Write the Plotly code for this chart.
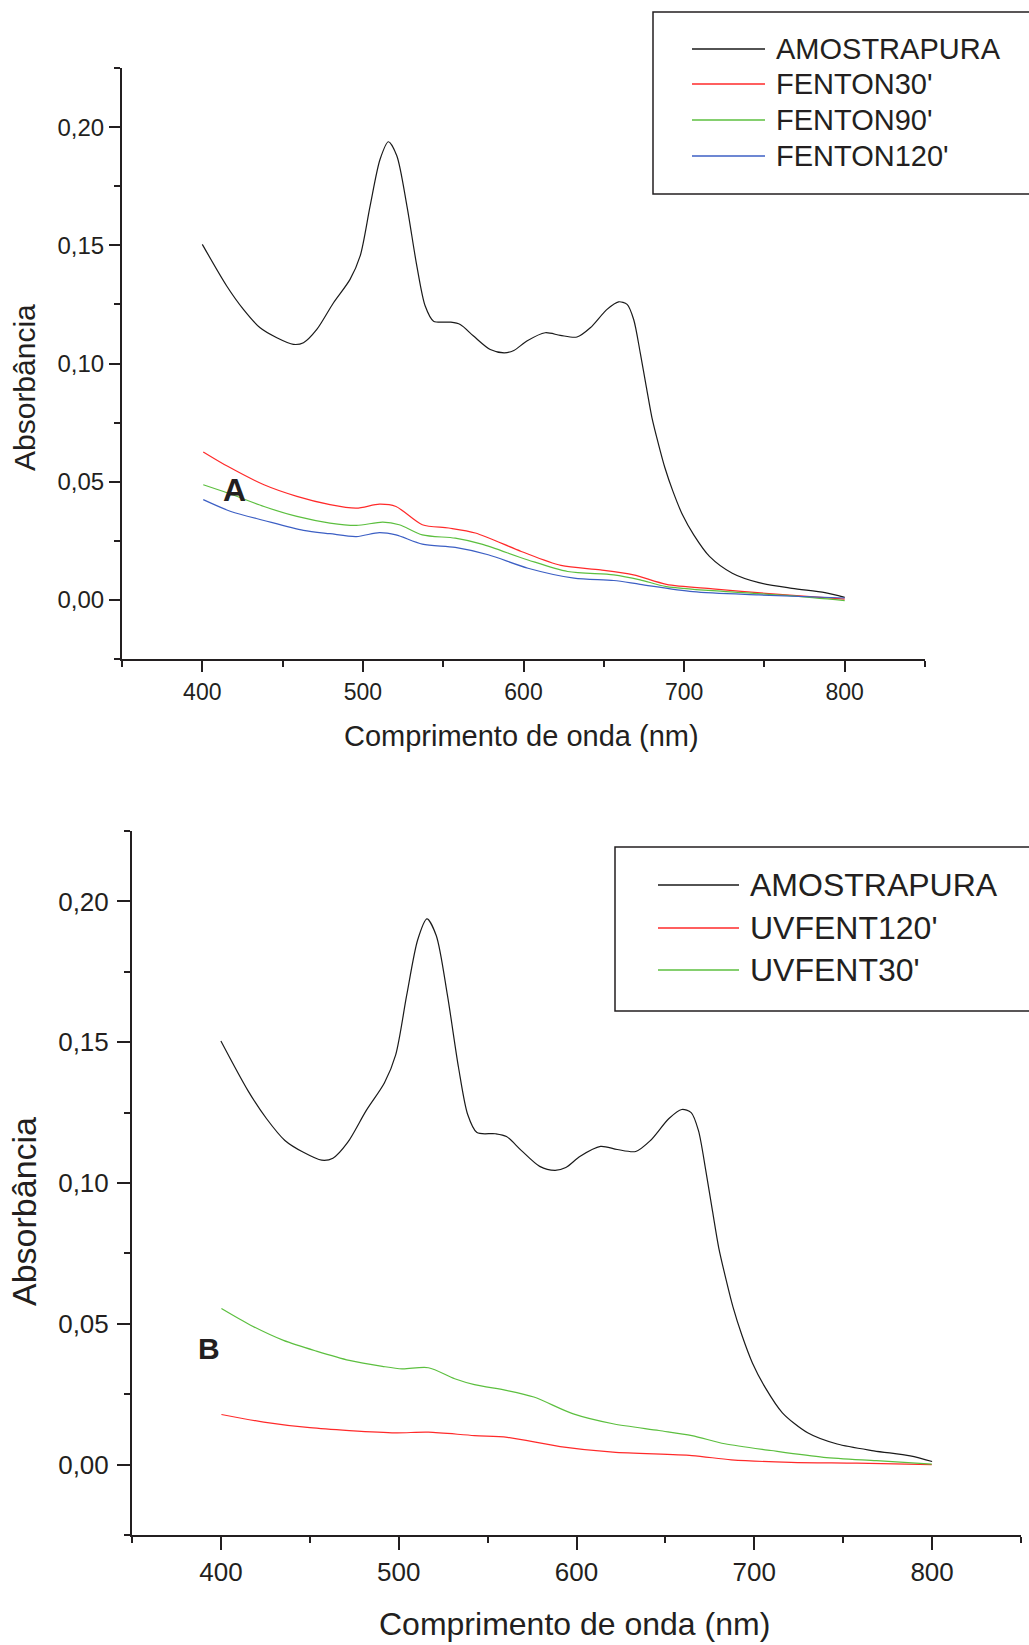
import plotly.graph_objects as go

# ---------------- data ----------------
# AMOSTRAPURA (same spectrum in both panels)
wl_pure = [400.0, 415.2, 425.6, 436.0, 446.4, 456.7, 463.0, 471.3, 481.7, 492.0,
           498.3, 504.5, 510.7, 515.9, 521.1, 527.4, 533.6, 538.8, 544.0, 554.4,
           560.6, 568.9, 579.3, 588.0, 594.0, 602.1, 613.5, 622.9, 633.3, 641.6,
           652.0, 659.2, 664.5, 668.6, 672.7, 676.5, 680.0, 684.0, 688.0, 693.0,
           699.0, 706.0, 715.8, 730.0, 746.6, 767.2, 787.7, 800.0]
abs_pure = [0.1504, 0.1328, 0.1229, 0.1151, 0.1109, 0.1081, 0.1088, 0.1144, 0.1257, 0.1356,
            0.1455, 0.1667, 0.1864, 0.1938, 0.1879, 0.1667, 0.1412, 0.1243, 0.1179, 0.1175,
            0.1165, 0.1116, 0.1059, 0.1045, 0.1055, 0.1095, 0.1130, 0.1119, 0.1112, 0.1151,
            0.1229, 0.1261, 0.1250, 0.1186, 0.1045, 0.0900, 0.0770, 0.0660, 0.0560, 0.0460,
            0.0360, 0.0275, 0.0184, 0.0113, 0.0073, 0.0049, 0.0031, 0.0011]

# Panel A
wl_f30 = [400.6, 415.8, 438.4, 458.9, 479.5, 495.9, 510.3, 520.6, 537.0, 553.4,
          570.0, 598.6, 623.3, 648.0, 668.5, 689.0, 717.8, 750.7, 800.0]
abs_f30 = [0.0626, 0.0565, 0.0487, 0.0438, 0.0403, 0.0388, 0.0405, 0.0395, 0.0318, 0.0304,
           0.0283, 0.0205, 0.0146, 0.0127, 0.0106, 0.0066, 0.0047, 0.0028, 0.0003]

wl_f90 = [400.6, 415.8, 438.4, 458.9, 479.5, 495.9, 512.4, 522.6, 537.0, 557.5,
          574.0, 602.8, 627.5, 656.2, 672.6, 689.0, 726.0, 767.2, 800.0]
abs_f90 = [0.0487, 0.0452, 0.0395, 0.0353, 0.0325, 0.0315, 0.0329, 0.0318, 0.0275, 0.0261,
           0.0236, 0.0169, 0.0120, 0.0106, 0.0085, 0.0056, 0.0035, 0.0017, -0.0003]

wl_f120 = [400.6, 417.8, 438.4, 463.0, 479.5, 495.9, 510.3, 520.6, 537.0, 557.5,
           578.0, 602.8, 631.5, 656.2, 672.6, 705.5, 746.6, 800.0]
abs_f120 = [0.0424, 0.0374, 0.0336, 0.0294, 0.0280, 0.0268, 0.0285, 0.0275, 0.0236, 0.0222,
            0.0191, 0.0134, 0.0092, 0.0082, 0.0066, 0.0035, 0.0021, 0.0008]

# Panel B
wl_uv30 = [400.3, 416.7, 435.2, 453.7, 472.2, 490.8, 501.9, 516.7, 531.5, 542.6,
           561.1, 576.0, 598.2, 620.5, 646.4, 664.9, 683.4, 709.4, 739.0, 768.7, 799.8]
abs_uv30 = [0.0554, 0.0495, 0.0441, 0.0403, 0.0370, 0.0349, 0.0340, 0.0344, 0.0305, 0.0284,
            0.0263, 0.0240, 0.0180, 0.0145, 0.0121, 0.0103, 0.0074, 0.0050, 0.0026, 0.0014, 0.0002]

wl_uv120 = [400.3, 424.1, 450.0, 472.2, 498.1, 516.7, 542.6, 561.1, 590.8, 620.5,
            664.9, 687.1, 720.6, 757.6, 799.8]
abs_uv120 = [0.0178, 0.0151, 0.0131, 0.0121, 0.0113, 0.0115, 0.0103, 0.0097, 0.0064, 0.0044,
             0.0032, 0.0017, 0.0008, 0.0005, 0.0000]

legend_a = ["AMOSTRAPURA", "FENTON30'", "FENTON90'", "FENTON120'"]
legend_b = ["AMOSTRAPURA", "UVFENT120'", "UVFENT30'"]

x_ticks = [400, 500, 600, 700, 800]
x_title = "Comprimento de onda (nm)"
y_title = "Absorbância"

# ---------------- styling ----------------
W, H = 1029, 1645
FONT = "Liberation Sans, Arial, sans-serif"
AX = "#231f20"
BLACK = "#1a1a1a"
RED = "#ff2a2a"
GREEN = "#5cbf3f"
BLUE = "#3c5fc4"


def px(x):
    return x / W


def py(y):
    return 1 - y / H


fig = go.Figure()

series_a = [(wl_pure, abs_pure, BLACK), (wl_f30, abs_f30, RED),
            (wl_f90, abs_f90, GREEN), (wl_f120, abs_f120, BLUE)]
for (xs, ys, c), name in zip(series_a, legend_a):
    fig.add_trace(go.Scatter(x=xs, y=ys, mode="lines", name=name, showlegend=False,
                             line=dict(color=c, width=1.2, shape="spline", smoothing=0.8),
                             xaxis="x", yaxis="y"))

series_b = [(wl_pure, abs_pure, BLACK), (wl_uv120, abs_uv120, RED),
            (wl_uv30, abs_uv30, GREEN)]
for (xs, ys, c), name in zip(series_b, legend_b):
    fig.add_trace(go.Scatter(x=xs, y=ys, mode="lines", name=name, showlegend=False,
                             line=dict(color=c, width=1.2, shape="spline", smoothing=0.8),
                             xaxis="x2", yaxis="y2"))


def xaxis(domain, anchor, ticklen, size, standoff):
    return dict(domain=domain, anchor=anchor, range=[350, 850], tickmode="array",
                tickvals=x_ticks, ticks="outside", ticklen=ticklen, tickwidth=2,
                tickcolor=AX, showline=True, linecolor=AX, linewidth=2,
                showgrid=False, zeroline=False,
                minor=dict(ticks="outside", ticklen=6, tickwidth=2, tickcolor=AX,
                           tickmode="linear", tick0=350, dtick=50),
                tickfont=dict(family=FONT, size=size, color=AX),
                ticklabelstandoff=standoff)


def yaxis(domain, anchor, ticklen, size, standoff):
    return dict(domain=domain, anchor=anchor, range=[-0.025, 0.225], tickmode="linear",
                tick0=0, dtick=0.05, tickformat=".2f", ticks="outside", ticklen=ticklen,
                tickwidth=2, tickcolor=AX, showline=True, linecolor=AX, linewidth=2,
                showgrid=False, zeroline=False,
                minor=dict(ticks="outside", ticklen=6, tickwidth=2, tickcolor=AX,
                           tickmode="linear", tick0=-0.025, dtick=0.025),
                tickfont=dict(family=FONT, size=size, color=AX),
                ticklabelstandoff=standoff)


shapes = []
annotations = []

# axis titles
annotations += [
    dict(text=x_title, x=px(521), y=py(735.5), xref="paper", yref="paper",
         xanchor="center", yanchor="middle", showarrow=False,
         font=dict(family=FONT, size=29, color=AX)),
    dict(text=y_title, x=px(24), y=py(388), xref="paper", yref="paper", textangle=-90,
         xanchor="center", yanchor="middle", showarrow=False,
         font=dict(family=FONT, size=30, color=AX)),
    dict(text=x_title, x=px(574), y=py(1624), xref="paper", yref="paper",
         xanchor="center", yanchor="middle", showarrow=False,
         font=dict(family=FONT, size=32, color=AX)),
    dict(text=y_title, x=px(24), y=py(1212), xref="paper", yref="paper", textangle=-90,
         xanchor="center", yanchor="middle", showarrow=False,
         font=dict(family=FONT, size=34, color=AX)),
]

# panel letters
annotations += [
    dict(text="<b>A</b>", x=420, y=0.0466, xref="x", yref="y", showarrow=False,
         xanchor="center", yanchor="middle", font=dict(family=FONT, size=32, color=AX)),
    dict(text="<b>B</b>", x=393.5, y=0.0411, xref="x2", yref="y2", showarrow=False,
         xanchor="center", yanchor="middle", font=dict(family=FONT, size=30, color=AX)),
]


def legend_box(x0, y0, y1, line_x0, line_x1, text_x, rows, names, colors, size):
    shapes.append(dict(type="rect", xref="paper", yref="paper", x0=px(x0), x1=px(W + 20),
                       y0=py(y1), y1=py(y0), line=dict(color=AX, width=1.5),
                       fillcolor="rgba(0,0,0,0)"))
    for r, n, c in zip(rows, names, colors):
        shapes.append(dict(type="line", xref="paper", yref="paper", x0=px(line_x0),
                           x1=px(line_x1), y0=py(r), y1=py(r), line=dict(color=c, width=1.5)))
        annotations.append(dict(text=n, x=px(text_x), y=py(r), xref="paper", yref="paper",
                                xanchor="left", yanchor="middle", showarrow=False,
                                font=dict(family=FONT, size=size, color=AX)))


legend_box(653, 12, 194, 692, 765, 774, [49, 84, 120, 156], legend_a,
           [BLACK, RED, GREEN, BLUE], 29)
legend_box(615, 847, 1011, 658, 739, 748, [885, 928, 970], legend_b,
           [BLACK, RED, GREEN], 32)

fig.update_layout(
    width=W, height=H,
    margin=dict(l=0, r=0, t=0, b=0, autoexpand=False),
    paper_bgcolor="white", plot_bgcolor="white",
    separators=",.",
    showlegend=False,
    font=dict(family=FONT, color=AX),
    xaxis=xaxis([px(122), px(925)], "y", 11, 23, 0),
    yaxis=yaxis([py(659), py(68)], "x", 11, 24, 0),
    xaxis2=xaxis([px(132), px(1021)], "y2", 13, 26, 0),
    yaxis2=yaxis([py(1535), py(831)], "x2", 13, 26, 3),
    shapes=shapes,
    annotations=annotations,
)

fig.write_html("out.html", config={"displayModeBar": False},
               post_script="document.body.style.margin='0';")
